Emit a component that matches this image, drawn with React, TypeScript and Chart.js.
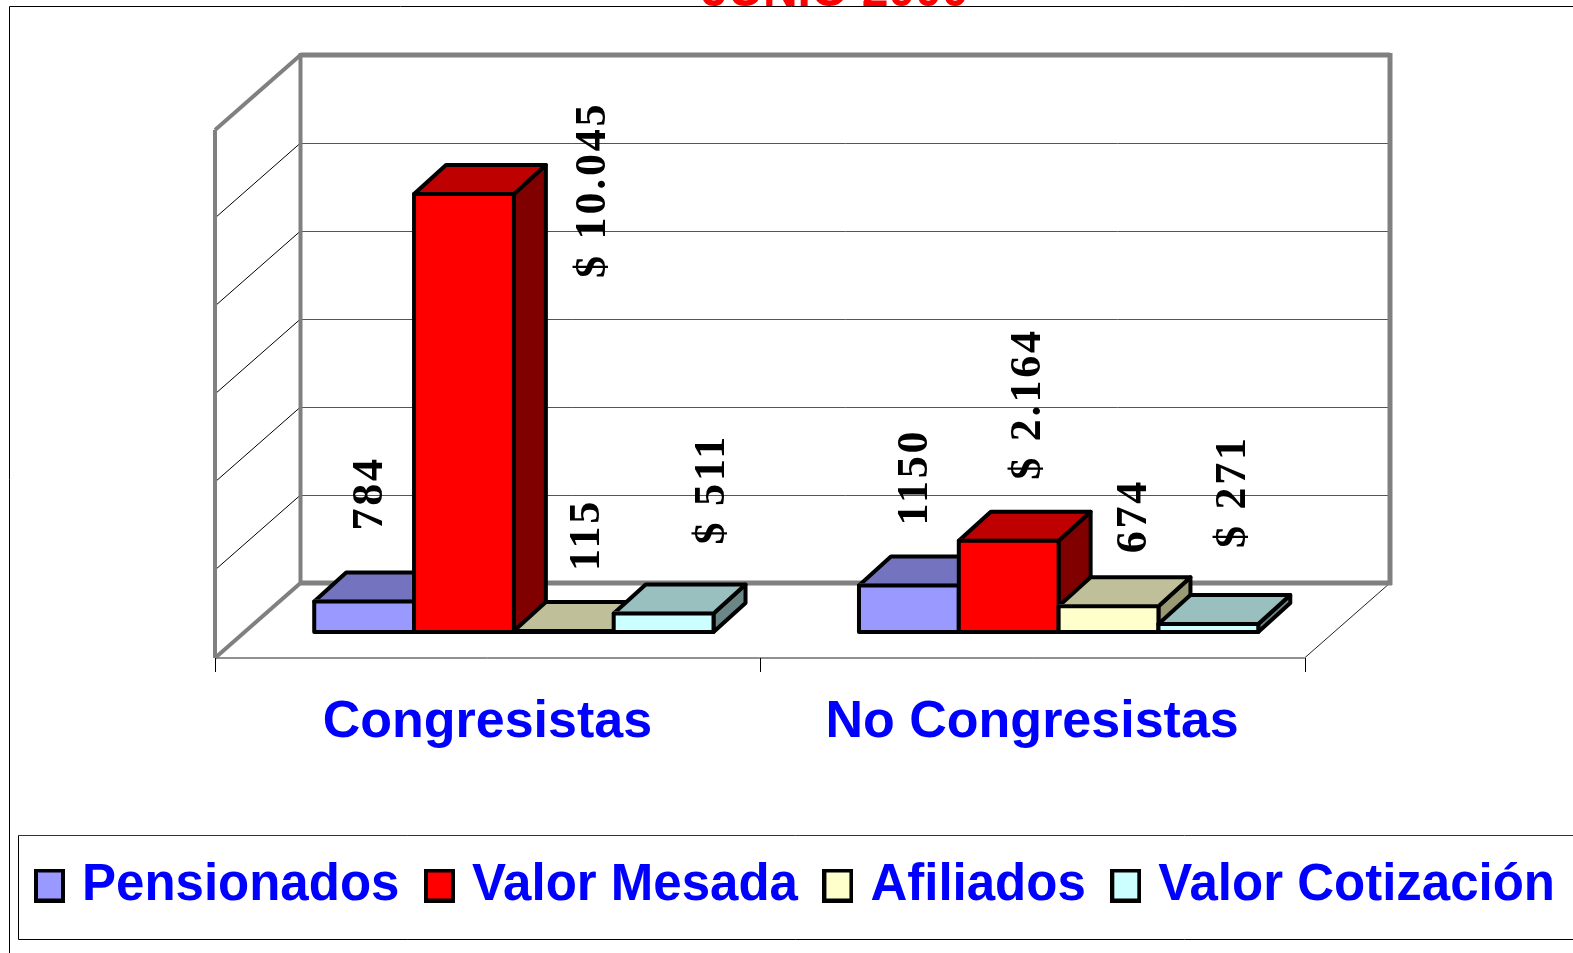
import React, { useEffect, useRef } from "react";
import { Chart, registerables } from "chart.js";

Chart.register(...registerables);

const categories = ["Congresistas", "No Congresistas"];
const seriesNames = ["Pensionados", "Valor Mesada", "Afiliados", "Valor Cotización"];
const pensionados = [784, 1150];
const valorMesada = [10045, 2164];
const afiliados = [115, 674];
const valorCotizacion = [511, 271];
const labelsPensionados = ["784", "1150"];
const labelsMesada = ["$ 10.045", "$ 2.164"];
const labelsAfiliados = ["115", "674"];
const labelsCotizacion = ["$ 511", "$ 271"];
const titleText = "JUNIO 2000";

const frontColors = ["#9999FF", "#FF0000", "#FFFFCC", "#CCFFFF"];
const topColors = ["#7373BF", "#BF0000", "#BFBF99", "#99BFBF"];
const sideColors = ["#5C5C99", "#800000", "#999973", "#6B8686"];

// label offsets from the top centre of each bar [dataset][category]
const labelDx = [[7, 7], [129.5, 20], [23.5, 26], [49.5, 25]];
const labelDy = [[-69, -58], [86, -59], [-58, -51], [-67, -74]];

const DEPTH_X = 32;
const DEPTH_Y = 29;
const BACK_X = 59;
const BACK_Y = 51;
const FRONT_X = 26.5;
const FRONT_Y = 24;
const LABEL_SPACING = "2.8px";
const EDGE = 4;

function swatch(color: string) {
  const c = document.createElement("canvas");
  c.width = 31;
  c.height = 34;
  const x = c.getContext("2d")!;
  x.fillStyle = "#000";
  x.fillRect(0, 0, 31, 34);
  x.fillStyle = color;
  x.fillRect(4, 4, 23, 26);
  return c;
}

function poly(ctx: CanvasRenderingContext2D, pts: number[][], fill: string | null, stroke: string, lw: number) {
  ctx.beginPath();
  pts.forEach((p, i) => (i ? ctx.lineTo(p[0], p[1]) : ctx.moveTo(p[0], p[1])));
  ctx.closePath();
  if (fill) {
    ctx.fillStyle = fill;
    ctx.fill();
  }
  ctx.lineWidth = lw;
  ctx.strokeStyle = stroke;
  ctx.lineJoin = "round";
  ctx.stroke();
}

function line(ctx: CanvasRenderingContext2D, a: number[], b: number[], c: string, lw: number) {
  ctx.beginPath();
  ctx.moveTo(a[0], a[1]);
  ctx.lineTo(b[0], b[1]);
  ctx.strokeStyle = c;
  ctx.lineWidth = lw;
  ctx.stroke();
}

const plugin3d = {
  id: "plugin3d",
  afterLayout(chart: any) {
    const lg = chart.legend;
    lg.left = 9.5;
    lg.right = 1640;
    lg.top = 827;
  },
  beforeDraw(chart: any) {
    const ctx = chart.ctx;
    const { left, right, bottom } = chart.chartArea;
    const yS = chart.scales.y;
    const xS = chart.scales.x;
    const top = yS.getPixelForValue(yS.max);
    ctx.save();
    ctx.fillStyle = "#fff";
    ctx.fillRect(0, 0, chart.width, chart.height);
    ctx.save();
    ctx.beginPath();
    ctx.rect(0, 0, chart.width, 7);
    ctx.clip();
    ctx.fillStyle = "#FF0000";
    ctx.font = "bold 48px 'Liberation Sans'";
    ctx.textAlign = "center";
    ctx.textBaseline = "alphabetic";
    ctx.fillText(titleText, 835, 6);
    ctx.restore();
    line(ctx, [9.5, 6.5], [chart.width, 6.5], "#000", 1);
    line(ctx, [9.5, 6.5], [9.5, chart.height], "#000", 1);
    // legend box
    line(ctx, [18.5, 835.5], [chart.width, 835.5], "#333", 1);
    line(ctx, [18.5, 835.5], [18.5, 939.5], "#000", 1);
    line(ctx, [18.5, 939.5], [chart.width, 939.5], "#000", 1);

    // walls and grid
    const fl = left - FRONT_X;
    const fr = right - FRONT_X;
    const bl = left + BACK_X;
    const br = right + BACK_X;
    const fb = bottom + FRONT_Y;
    const bb = bottom - BACK_Y;
    yS.ticks.forEach((t: any) => {
      const py = yS.getPixelForValue(t.value);
      if (t.value === yS.min || t.value === yS.max) return;
      line(ctx, [bl, Math.round(py - BACK_Y) + 0.5], [br, Math.round(py - BACK_Y) + 0.5], "#555", 1);
      line(ctx, [bl, py - BACK_Y], [fl, py + FRONT_Y], "#000", 1);
    });
    // floor
    line(ctx, [fl, fb], [fr, fb], "#222", 1);
    line(ctx, [fr, fb], [br, bb], "#222", 1);
    // grey frame
    const grey = "#808080";
    line(ctx, [bl, top - BACK_Y], [br, top - BACK_Y], grey, 5);
    line(ctx, [br, top - BACK_Y - 2], [br, bb + 2], grey, 5);
    line(ctx, [bl, bb], [br + 2, bb], grey, 5);
    line(ctx, [bl, top - BACK_Y - 2], [bl, bb], grey, 4);
    line(ctx, [bl, top - BACK_Y], [fl, top + FRONT_Y], grey, 4);
    line(ctx, [fl, top + FRONT_Y], [fl, fb], grey, 4);
    line(ctx, [bl, bb], [fl, fb], grey, 4);
    // x ticks on the front floor edge
    const ticks = [xS.getPixelForTick(0) - xS.width / 4, xS.getPixelForTick(0) + xS.width / 4, xS.getPixelForTick(1) + xS.width / 4];
    ticks.forEach((tx: number) => {
      const px = Math.round(tx - FRONT_X) + 0.5;
      line(ctx, [px, fb], [px, fb + 14], "#000", 1);
    });
    ctx.restore();
  },
  beforeDatasetsDraw(chart: any) {
    const ctx = chart.ctx;
    const n = chart.data.datasets.length;
    for (let j = 0; j < chart.data.labels.length; j++) {
      for (let i = 0; i < n; i++) {
        const el = chart.getDatasetMeta(i).data[j];
        const hw = el.width / 2;
        const l = el.x - hw;
        const r = el.x + hw;
        const t = el.y + EDGE / 2;
        const b = el.base - EDGE / 2;
        poly(ctx, [[r, t], [r + DEPTH_X, t - DEPTH_Y], [r + DEPTH_X, b - DEPTH_Y], [r, b]], sideColors[i], "#000", EDGE);
        poly(ctx, [[l, t], [l + DEPTH_X, t - DEPTH_Y], [r + DEPTH_X, t - DEPTH_Y], [r, t]], topColors[i], "#000", EDGE);
        el.draw(ctx, chart.chartArea);
        poly(ctx, [[l, t], [r, t], [r, b], [l, b]], null, "#000", EDGE);
      }
    }
    return false;
  },
  afterDraw(chart: any) {
    const ctx = chart.ctx;
    const all = [labelsPensionados, labelsMesada, labelsAfiliados, labelsCotizacion];
    ctx.save();
    ctx.font = "bold 44px 'Liberation Serif'";
    ctx.letterSpacing = LABEL_SPACING;
    ctx.fillStyle = "#000";
    ctx.textAlign = "left";
    ctx.textBaseline = "middle";
    all.forEach((labels, i) => {
      labels.forEach((txt, j) => {
        const el = chart.getDatasetMeta(i).data[j];
        ctx.save();
        ctx.translate(el.x + labelDx[i][j], el.y + labelDy[i][j]);
        ctx.rotate(-Math.PI / 2);
        ctx.fillText(txt, 0, 0);
        ctx.restore();
      });
    });
    ctx.restore();
  },
};

export default function App() {
  const ref = useRef<HTMLCanvasElement>(null);
  useEffect(() => {
    const canvas = ref.current!;
    const series = [pensionados, valorMesada, afiliados, valorCotizacion];
    const chart = new Chart(canvas, {
      type: "bar",
      data: {
        labels: categories,
        datasets: series.map((data, i) => ({
          label: seriesNames[i],
          data,
          backgroundColor: frontColors[i],
          borderWidth: 0,
          barPercentage: 1,
          categoryPercentage: 0.733,
        })),
      },
      options: {
        animation: false,
        responsive: false,
        layout: { padding: { top: 106, right: -70 } },
        events: [],
        scales: {
          x: {
            grid: { display: false },
            border: { display: false },
            ticks: {
              color: "#0000FF",
              font: { family: "'Liberation Sans'", weight: "bold", size: 52 },
              labelOffset: -26.5,
              padding: 49,
              maxRotation: 0,
              autoSkip: false,
            },
            afterFit(s: any) {
              s.height = 319 - (s.chart.legend?.height ?? 0);
            },
          },
          y: {
            min: 0,
            max: 12000,
            ticks: { stepSize: 2000, display: false },
            grid: { display: false },
            border: { display: false },
            afterFit(s: any) {
              s.width = 241.5;
            },
          },
          y2: {
            position: "right",
            min: 0,
            max: 1,
            ticks: { display: false },
            grid: { display: false },
            border: { display: false },
            afterFit(s: any) {
              s.width = 312;
            },
          },
        },
        plugins: {
          tooltip: { enabled: false },
          title: { display: false },
          legend: {
            display: true,
            position: "bottom",
            align: "start",
            labels: {
              color: "#0000FF",
              font: { family: "'Liberation Sans'", weight: "bold", size: 51 },
              usePointStyle: true,
              pointStyleWidth: 14,
              padding: 33,
              generateLabels: () =>
                seriesNames.map((text, i) => ({
                  text,
                  pointStyle: swatch(frontColors[i]),
                  fontColor: "#0000FF",
                  datasetIndex: i,
                  hidden: false,
                  lineWidth: 0,
                })),
            },
          },
        },
      },
      plugins: [plugin3d],
    } as any);
    return () => chart.destroy();
  }, []);
  return (
    <div style={{ position: "absolute", left: 0, top: 0, width: 1573, height: 953, overflow: "hidden" }}>
      <canvas ref={ref} width={1573} height={953} style={{ display: "block" }} />
    </div>
  );
}
